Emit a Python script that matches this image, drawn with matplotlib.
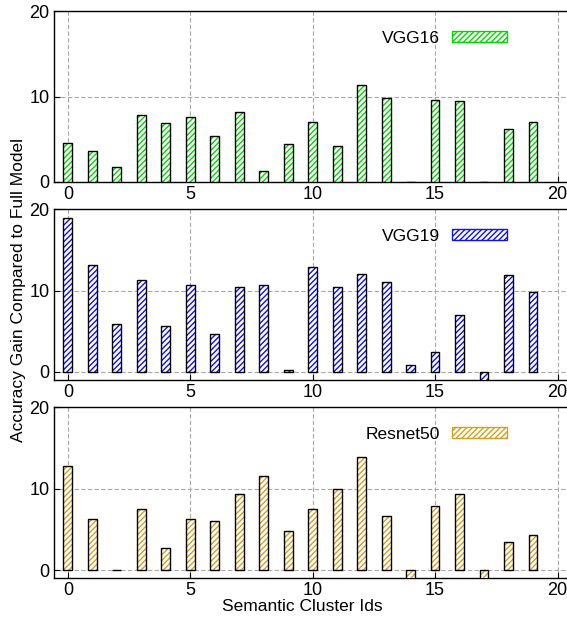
import matplotlib
matplotlib.use("Agg")
import matplotlib.pyplot as plt
import matplotlib.patches as mpatches
import numpy as np

plt.rcParams['font.family'] = ['Liberation Sans', 'DejaVu Sans']
plt.rcParams['hatch.linewidth'] = 1.0

# cluster ids 0..19
cluster_ids = list(range(20))

vgg16 = [4.6, 3.6, 1.8, 7.8, 6.9, 7.6, 5.4, 8.2, 1.25, 4.4,
         7.0, 4.25, 11.4, 9.8, 0.0, 9.65, 9.45, 0.05, 6.25, 7.0]
vgg19 = [18.9, 13.1, 5.9, 11.3, 5.6, 10.7, 4.65, 10.45, 10.7, 0.25,
         12.9, 10.45, 12.05, 11.05, 0.8, 2.5, 7.0, -1.2, 11.9, 9.8]
resnet50 = [12.8, 6.3, 0.05, 7.45, 2.65, 6.3, 6.0, 9.4, 11.6, 4.85,
            7.45, 10.0, 13.85, 6.65, -1.2, 7.85, 9.4, -1.2, 3.45, 4.25]

series = [("VGG16", vgg16, "#00d800", (0, 20)),
          ("VGG19", vgg19, "#1010f0", (-1, 20)),
          ("Resnet50", resnet50, "#d4a020", (-1, 20))]

fig = plt.figure(figsize=(5.67, 6.19), dpi=100)

# axes positions (left, bottom, width, height) in figure fractions
bottoms = [0.706, 0.386, 0.066]
axes = []
for i, (name, vals, col, ylim) in enumerate(series):
    ax = fig.add_axes([0.095, bottoms[i], 0.912, 0.276])
    axes.append(ax)
    # hatched fill, then black outline on top
    ax.bar(cluster_ids, vals, width=0.36, color="white", edgecolor=col,
           hatch="//////", linewidth=0, zorder=3)
    ax.bar(cluster_ids, vals, width=0.36, fill=False, edgecolor="black",
           linewidth=1.0, zorder=4)
    ax.set_xlim(-0.57, 20.55)
    ax.set_ylim(*ylim)
    ax.set_xticks([0, 5, 10, 15, 20])
    ax.set_yticks([0, 10, 20])
    ax.tick_params(direction="in", length=4, labelsize=13, pad=3)
    ax.grid(True, color="#a8a8a8", linestyle=(0, (4, 2)), linewidth=0.8, zorder=0)
    for sp in ax.spines.values():
        sp.set_linewidth(1.0)
    handle = mpatches.Patch(facecolor="white", edgecolor=col, hatch="//////",
                            linewidth=1.0)
    ax.legend([handle], [name], loc="center right",
              bbox_to_anchor=(0.877, 0.842), frameon=False, markerfirst=False,
              borderpad=0, borderaxespad=0, handlelength=3.2, handleheight=0.6,
              handletextpad=0.7, fontsize=12.5)

fig.text(0.032, 0.531, "Accuracy Gain Compared to Full Model", rotation=90,
         ha="center", va="center", fontsize=12.5)
fig.text(0.533, 0.021, "Semantic Cluster Ids", ha="center", va="center",
         fontsize=12.5)

fig.savefig("out.png", dpi=100)
